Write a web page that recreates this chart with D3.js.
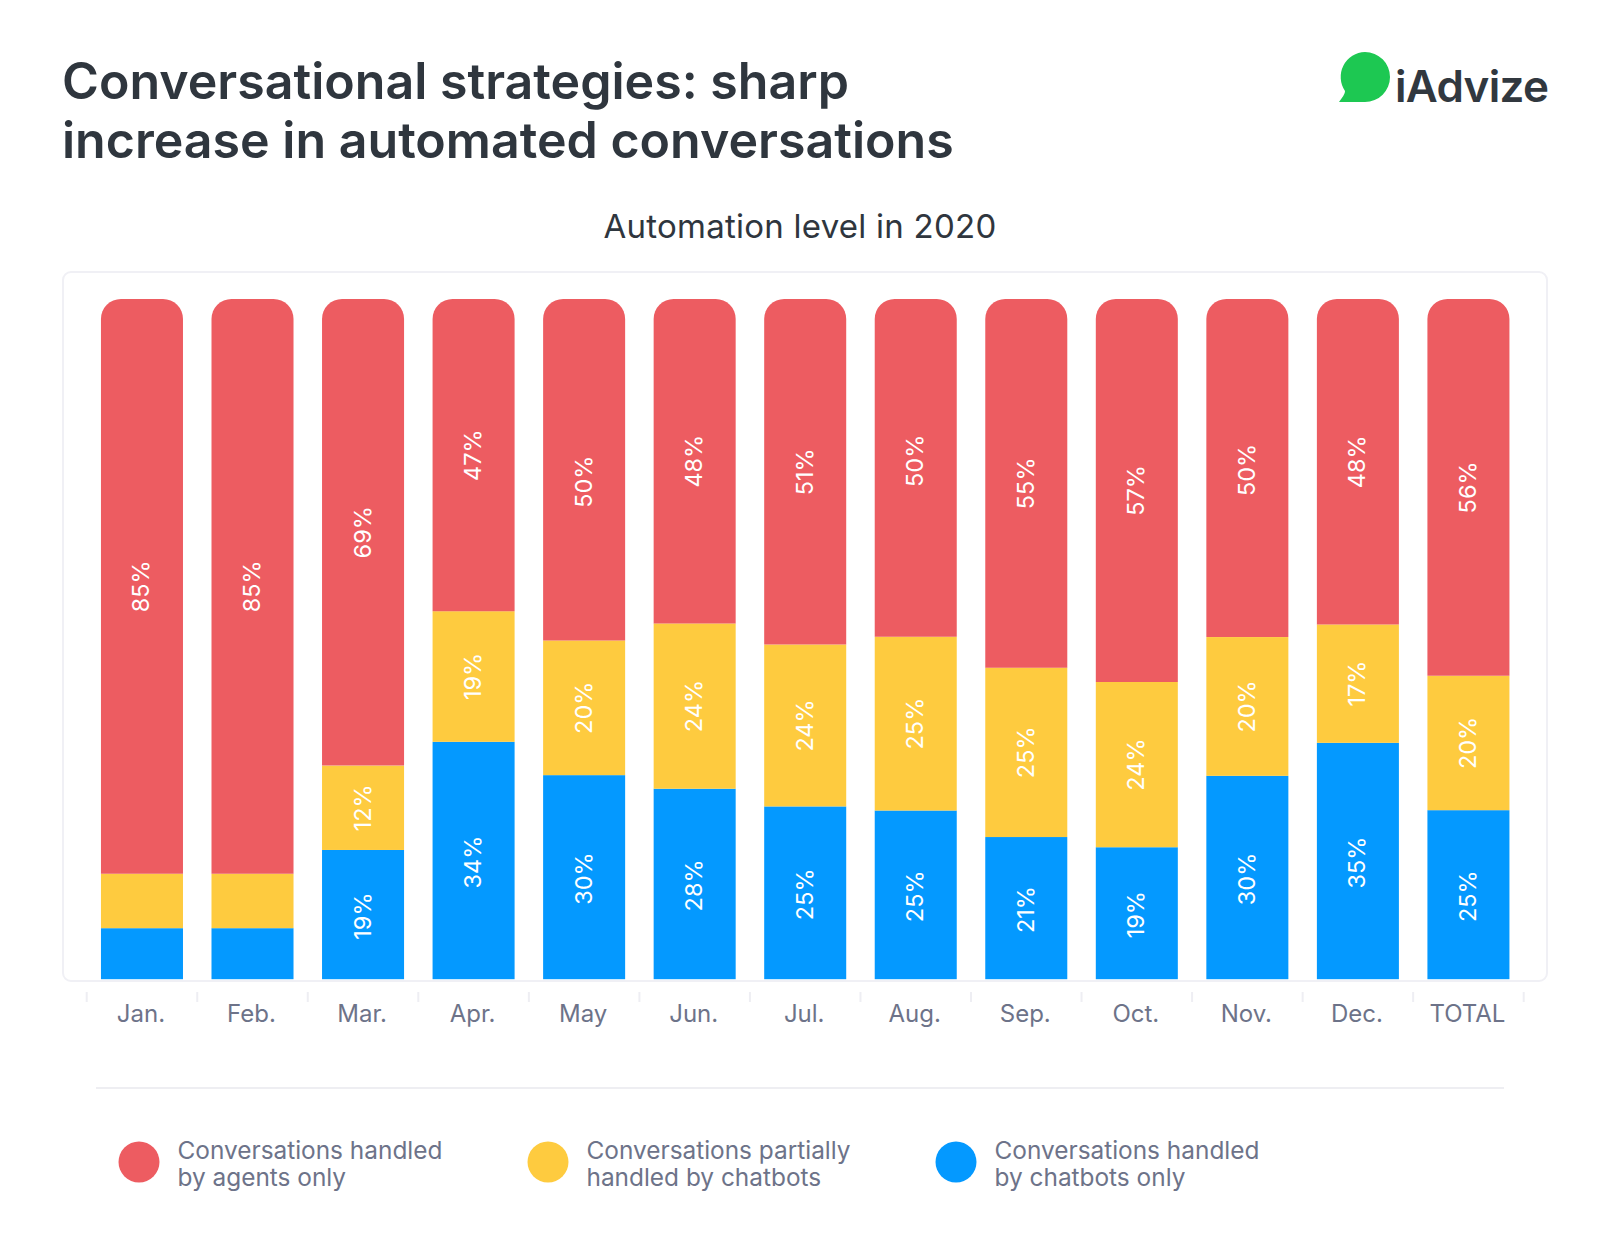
<!DOCTYPE html>
<html>
<head>
<meta charset="utf-8">
<script src="https://cdn.jsdelivr.net/npm/d3@7"></script>
<style>
  html, body { margin: 0; background: #fff; }
  svg { display: block; }
  text { font-family: Inter, Lato, sans-serif; font-variant-ligatures: none; }
</style>
</head>
<body>
<svg id="chart" width="1600" height="1246"></svg>
<script>
const months = ['Jan.', 'Feb.', 'Mar.', 'Apr.', 'May', 'Jun.', 'Jul.', 'Aug.', 'Sep.', 'Oct.', 'Nov.', 'Dec.', 'TOTAL'];
// bar heights
const chatbots = [7.5, 7.5, 19, 34.9, 30, 28, 25.4, 24.8, 20.9, 19.4, 29.9, 34.75, 24.85];
const partial = [8, 8, 12.4, 19.2, 19.8, 24.3, 23.8, 25.55, 24.9, 24.3, 20.4, 17.4, 19.75];
const agents = [84.5, 84.5, 68.6, 45.9, 50.2, 47.7, 50.8, 49.65, 54.2, 56.3, 49.7, 47.85, 55.4];
// printed percentages, these do not always round from the heights
const chatbotLabels = [null, null, 19, 34, 30, 28, 25, 25, 21, 19, 30, 35, 25];
const partialLabels = [null, null, 12, 19, 20, 24, 24, 25, 25, 24, 20, 17, 20];
const agentLabels = [85, 85, 69, 47, 50, 48, 51, 50, 55, 57, 50, 48, 56];

const legendItems = [
  ['Conversations handled', 'by agents only'],
  ['Conversations partially', 'handled by chatbots'],
  ['Conversations handled', 'by chatbots only']
];
const colors = ['#0499ff', '#fecb3f', '#ed5c61'];
const legendColors = ['#ed5c61', '#fecb3f', '#0499ff'];

const svg = d3.select('#chart');

const x = d3.scaleBand().domain(months).range([86.7, 1523.7]).paddingInner(0.258).paddingOuter(0.129);
const y = d3.scaleLinear().domain([0, 100]).range([979.2, 299]);

// title
const title = svg.append('g').attr('fill', '#2f363e').attr('font-size', 50.1).attr('font-weight', 600);
title.append('text').attr('x', 62).attr('y', 99).text('Conversational strategies: sharp');
title.append('text').attr('x', 62).attr('y', 158).text('increase in automated conversations');

svg.append('text')
  .attr('x', 800).attr('y', 238)
  .attr('text-anchor', 'middle')
  .attr('font-size', 33)
  .attr('letter-spacing', 0.25)
  .attr('fill', '#2f363e')
  .text('Automation level in 2020');

// logo
const logo = svg.append('g');
logo.append('path')
  .attr('d', 'M1365 52a25 25 0 0 1 0 50h-26c3-4 6-8 6-11a25 25 0 0 1 20-39z')
  .attr('fill', '#1dc852');
logo.append('text')
  .attr('x', 1395).attr('y', 102)
  .attr('font-size', 44).attr('font-weight', 600)
  .attr('fill', '#31383f')
  .attr('textLength', 154)
  .text('iAdvize');

// panel
svg.append('rect')
  .attr('x', 63).attr('y', 272).attr('width', 1484).attr('height', 709).attr('rx', 8)
  .attr('fill', '#fff').attr('stroke', '#f0f0f5').attr('stroke-width', 2);

// bars
const rows = months.map((m, i) => ({ month: m, chatbots: chatbots[i], partial: partial[i], agents: agents[i] }));
const series = d3.stack().keys(['chatbots', 'partial', 'agents'])(rows);
const labels = [chatbotLabels, partialLabels, agentLabels];
const r = 20;

series.forEach((s, si) => {
  const g = svg.append('g').attr('fill', colors[si]);
  if (si < 2) {
    g.selectAll('rect').data(s).enter().append('rect')
      .attr('x', d => x(d.data.month))
      .attr('width', x.bandwidth())
      .attr('y', d => y(d[1]))
      .attr('height', d => y(d[0]) - y(d[1]));
  } else {
    g.selectAll('path').data(s).enter().append('path')
      .attr('d', d => {
        const x0 = x(d.data.month), w = x.bandwidth(), t = y(d[1]), b = y(d[0]);
        return `M${x0} ${b}V${t + r}a${r} ${r} 0 0 1 ${r} ${-r}h${w - 2 * r}a${r} ${r} 0 0 1 ${r} ${r}V${b}z`;
      });
  }
});

// some agent labels sit off centre in the original
const agentLabelShift = { 'May': 12, 'Aug.': -7, 'Nov.': 2 };
const labelShift = (si, month) => si === 0 ? 1.5 : si === 2 ? (agentLabelShift[month] || 0) : 0;

// value labels, Jan. and Feb. have none on the two small segments
series.forEach((s, si) => {
  svg.append('g').selectAll('text')
    .data(s.map((d, i) => ({ d, label: labels[si][i] })).filter(e => e.label !== null))
    .enter().append('text')
    .attr('transform', e => {
      const cx = x(e.d.data.month) + x.bandwidth() / 2 - 1;
      const cy = (y(e.d[0]) + y(e.d[1])) / 2 + labelShift(si, e.d.data.month);
      return `translate(${cx},${cy}) rotate(-90)`;
    })
    .attr('text-anchor', 'middle')
    .attr('dominant-baseline', 'central')
    .attr('font-size', 23.5)
    .attr('fill', '#fff')
    .text(e => e.label + '%');
});

// month axis
const axis = svg.append('g')
  .attr('transform', 'translate(0,1022)')
  .call(d3.axisBottom(x).tickSize(0).tickPadding(0));
axis.select('.domain').remove();
axis.selectAll('text')
  .attr('x', -1).attr('y', 0).attr('dy', 0)
  .attr('font-size', 24)
  .attr('font-family', 'Inter')
  .attr('fill', '#6d7389');

// separators between the months
const step = x.step();
svg.append('g').selectAll('line')
  .data(months.concat(['end']))
  .enter().append('line')
  .attr('x1', (d, i) => x.range()[0] + i * step)
  .attr('x2', (d, i) => x.range()[0] + i * step)
  .attr('y1', 992).attr('y2', 1002)
  .attr('stroke', '#eeeef3').attr('stroke-width', 2);

svg.append('line')
  .attr('x1', 96).attr('x2', 1504).attr('y1', 1088).attr('y2', 1088)
  .attr('stroke', '#eeeef2').attr('stroke-width', 2);

// legend
const legendX = d3.scaleOrdinal().domain([0, 1, 2]).range([139, 548, 956]);
const legend = svg.append('g').selectAll('g')
  .data(legendItems)
  .enter().append('g')
  .attr('transform', (d, i) => `translate(${legendX(i)},1162)`);
legend.append('circle').attr('r', 20.5).attr('fill', (d, i) => legendColors[i]);
legend.append('text')
  .attr('x', 38.5).attr('y', -3)
  .attr('font-size', 24.4).attr('fill', '#6d7389')
  .text(d => d[0]);
legend.append('text')
  .attr('x', 38.5).attr('y', 24)
  .attr('font-size', 24.4).attr('fill', '#6d7389')
  .text(d => d[1]);
</script>
</body>
</html>
